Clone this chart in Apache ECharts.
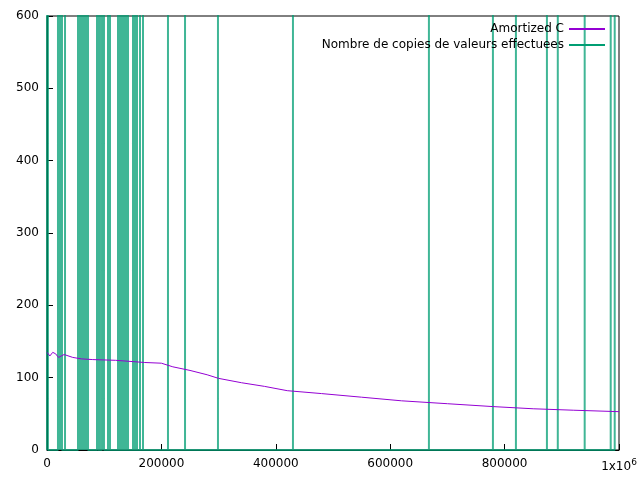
<!DOCTYPE html>
<html>
<head>
<meta charset="utf-8">
<title>Amortized C</title>
<script src="https://cdn.jsdelivr.net/npm/echarts@6/dist/echarts.min.js"></script>
</head>
<body style="margin:0">
<div id="main" style="width:640px;height:480px;"></div>
<script>
// Amortized cost curve
var costX = [0, 5000, 10000, 15000, 20000, 30000, 45000, 60000, 80000, 120000, 170000, 200000, 220000, 250000, 280000, 300000, 340000, 380000, 420000, 480000, 550000, 620000, 700000, 780000, 850000, 920000, 1000000];
var costY = [135, 130, 135, 133, 128, 132, 128, 126, 125, 124, 121, 120, 115, 110, 104, 99, 93, 88, 82, 78, 73, 68, 64, 60, 57, 55, 53];
// positions of copy spikes (resizes)
var spikeX = [0, 1700, 19200, 21000, 22700, 24500, 26200, 31500, 54200, 56000, 57700, 59400, 61200, 63000, 64700, 66400, 68200, 70000, 71700, 87400, 89100, 92600, 96200, 99600, 106600, 110100, 124100, 127600, 131100, 134600, 138100, 141600, 150300, 153800, 157300, 162600, 167800, 211500, 241300, 298900, 430000, 667700, 779600, 819800, 874000, 893000, 940000, 985500, 992500];
var spikeTop = 100000;

var costData = costX.map(function (x, i) { return [x, costY[i]]; });
var copyData = [];
spikeX.forEach(function (x) {
    copyData.push([x, 0], [x, spikeTop], [x, 0]);
});

var chart = echarts.init(document.getElementById('main'));
var font = 'DejaVu Sans';
chart.setOption({
    animation: false,
    textStyle: { fontFamily: font },
    grid: { left: 47, right: 21, top: 16, bottom: 30, show: true, borderColor: '#000', borderWidth: 1 },
    legend: {
        orient: 'vertical', right: 30, top: 18, align: 'right',
        itemWidth: 36, itemHeight: 2, itemGap: 4,
        icon: 'rect',
        textStyle: { fontSize: 12, color: '#000', fontFamily: font },
        data: ['Amortized C', 'Nombre de copies de valeurs effectuees']
    },
    xAxis: {
        type: 'value', min: 0, max: 1000000, interval: 200000,
        axisLine: { lineStyle: { color: '#000' } },
        axisTick: { inside: true, length: 6, lineStyle: { color: '#000' } },
        splitLine: { show: false },
        axisLabel: {
            color: '#000', fontSize: 12, margin: 8,
            formatter: function (v) { return v === 1000000 ? '1x10{s|6}' : String(v); },
            rich: { s: { fontSize: 9, verticalAlign: 'top', padding: [0, 0, 8, 0] } }
        }
    },
    yAxis: {
        type: 'value', min: 0, max: 600, interval: 100,
        axisLine: { lineStyle: { color: '#000' } },
        axisTick: { inside: true, length: 6, lineStyle: { color: '#000' } },
        splitLine: { show: false },
        axisLabel: { color: '#000', fontSize: 12, margin: 8 }
    },
    series: [
        {
            name: 'Amortized C', type: 'line', data: costData, showSymbol: false,
            lineStyle: { color: '#9400d3', width: 1 }, itemStyle: { color: '#9400d3' }, z: 3
        },
        {
            name: 'Nombre de copies de valeurs effectuees', type: 'line', data: copyData, showSymbol: false,
            lineStyle: { color: '#009e73', width: 2, opacity: 0.75 }, itemStyle: { color: '#009e73' }, z: 2
        }
    ]
});
</script>
</body>
</html>
